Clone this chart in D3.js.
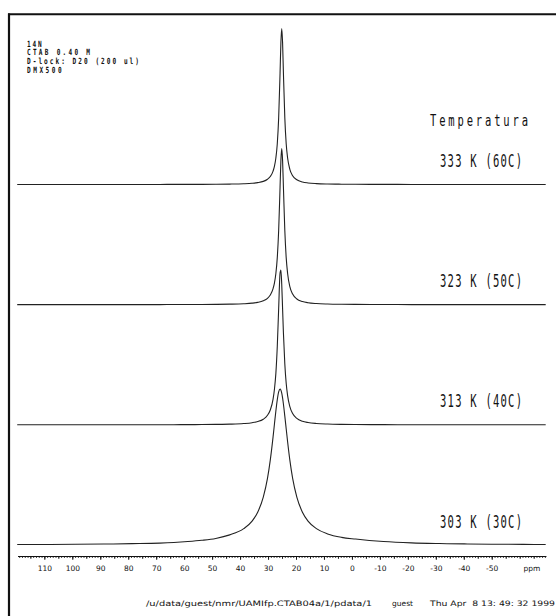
<!DOCTYPE html>
<html><head><meta charset="utf-8">
<script src="https://cdn.jsdelivr.net/npm/d3@7"></script>
<style>body{margin:0;background:#fff} svg{display:block}</style>
</head><body>
<svg id="c" width="556" height="616"></svg>
<script>
// chemical shift grid (ppm) on which the spectra were read
const ppm = [119.7,108.7,98.7,88.7,78.7,68.7,63.7,58.7,53.7,48.7,43.7,38.7,35.7,33.7,31.7,30.2,29.2,28.2,27.7,27.2,26.7,26.2,25.7,25.4,25.1,24.8,24.5,24.0,23.5,23.0,22.2,21.2,19.7,17.7,15.7,12.7,8.7,3.7,-1.3,-11.3,-21.3,-31.3,-41.3,-51.3,-61.3,-69.3];
// relative intensities (peak = 100)
const spec303 = [0.3,0.35,0.45,0.6,0.85,1.2,1.6,2.2,3.0,4.2,6.5,10.5,15.3,21,30.7,42.7,54.4,69.3,77.7,85.9,93,98.1,100,99.3,97.4,94.3,90.4,82.6,74.4,66.2,54.4,42.7,30.7,21,15.3,10.5,7.1,4.9,3.8,2.2,1.35,0.93,0.67,0.5,0.4,0.33];
const spec313 = [0.016,0.021,0.027,0.036,0.051,0.077,0.1,0.13,0.18,0.27,0.43,0.82,1.37,2.1,3.6,6.1,9.5,16.5,23,33,50,74.6,97.3,99.3,90,74.6,59,39,26.5,18.7,11.7,7.2,4.1,2.3,1.48,0.87,0.51,0.3,0.2,0.11,0.066,0.045,0.032,0.024,0.019,0.016];
const spec323 = [0.012,0.016,0.02,0.027,0.038,0.058,0.074,0.1,0.13,0.2,0.32,0.59,0.97,1.47,2.47,4.07,6.2,10.3,14,20,30,47.6,75.4,92.5,100,92.5,75.4,47.6,30,20,11.6,6.8,3.65,2.0,1.23,0.71,0.41,0.24,0.16,0.08,0.05,0.03,0.025,0.02,0.015,0.012];
const spec333 = [0.01,0.013,0.017,0.022,0.031,0.047,0.06,0.08,0.11,0.16,0.26,0.49,0.8,1.2,2.0,3.4,5.1,8.6,11.8,17,26,42.7,71.5,91,100,91,71.5,42.7,26,17,9.7,5.6,3.0,1.6,1.0,0.58,0.33,0.2,0.13,0.07,0.04,0.03,0.02,0.015,0.012,0.01];
const temperatures = ["303 K (30C)","313 K (40C)","323 K (50C)","333 K (60C)"];
const tickLabels = ["110","100","90","80","70","60","50","40","30","20","10","0","-10","-20","-30","-40","-50"];
const tickValues = [110,100,90,80,70,60,50,40,30,20,10,0,-10,-20,-30,-40,-50];
const headerLines = ["14N","CTAB 0.40 M","D-lock: D20 (200 ul)","DMX500"];
const legendTitle = "Temperatura";
const unitLabel = "ppm";
const footerParts = ["/u/data/guest/nmr/UAMIfp.CTAB04a/1/pdata/1","guest","Thu Apr  8 13: 49: 32 1999"];

const spectra = [spec303, spec313, spec323, spec333];

const svg = d3.select("#c");
const x = d3.scaleLinear().domain([119.6, -69.3]).range([17.5, 545.7]);
const yBase = d3.scaleLinear().domain([0, 3]).range([545, 184.5]);
const hScale = d3.scaleLinear().domain([0, 100]).range([0, 156]);

// frame
svg.append("line").attr("x1", 9).attr("x2", 9).attr("y1", 13.5).attr("y2", 616)
  .attr("stroke", "#111").attr("stroke-width", 2.2);
svg.append("line").attr("x1", 8).attr("x2", 556).attr("y1", 14.3).attr("y2", 14.3)
  .attr("stroke", "#111").attr("stroke-width", 2);

// spectra
spectra.forEach((s, i) => {
  const line = d3.line()
    .x((d, k) => x(ppm[k]))
    .y(d => yBase(i) - hScale(d))
    .curve(d3.curveMonotoneX);
  svg.append("path").datum(s).attr("d", line)
    .attr("fill", "none").attr("stroke", "#222").attr("stroke-width", 1.1);
});

// condensed plotter-like text helper
function condensed(str, x0, yb, width, size, sx, weight) {
  const g = svg.append("g").attr("transform", `translate(${x0},${yb}) scale(${sx},1)`);
  g.append("text").text(str)
    .attr("font-family", "'DejaVu Sans Mono', monospace")
    .attr("font-size", size).attr("fill", "#111")
    .attr("font-weight", weight || "normal")
    .attr("textLength", width / sx).attr("lengthAdjust", "spacing")
    .style("white-space", "pre");
}

condensed(legendTitle, 430, 125.5, 98, 15, 0.7);
temperatures.forEach((t, i) => {
  condensed(t, 440, yBase(i) - 17.5, 82, 17, 0.62);
});

// header
const headerWidths = [14.7, 63, 112, 34.7];
headerLines.forEach((t, i) => {
  condensed(t, 27, 46.5 + i * 8.9, headerWidths[i], 8.5, 0.72, "bold");
});

// axis ruler
const axG = svg.append("g").attr("transform", "translate(0,556)");
const minor = d3.range(119, -70, -1);
const mid = minor.filter(v => v % 5 === 0);
const ax1 = d3.axisBottom(x).tickValues(minor).tickSize(2).tickSizeOuter(0).tickFormat("");
const ax2 = d3.axisBottom(x).tickValues(mid).tickSize(3).tickSizeOuter(0).tickFormat("");
const ax3 = d3.axisBottom(x).tickValues(tickValues).tickSize(4).tickSizeOuter(0).tickPadding(6)
  .tickFormat((d, k) => tickLabels[k]);
[ax1, ax2, ax3].forEach(a => {
  const g = axG.append("g").call(a);
  g.select(".domain").attr("stroke", "#111").attr("stroke-width", 1);
  g.selectAll(".tick line").attr("stroke", "#111").attr("stroke-width", 0.8);
  g.selectAll(".tick text").attr("font-family", "'DejaVu Sans', sans-serif")
    .attr("font-size", 7.5).attr("fill", "#111");
});
svg.append("text").text(unitLabel).attr("x", 532).attr("y", 571.3)
  .attr("text-anchor", "middle").attr("font-family", "'DejaVu Sans', sans-serif")
  .attr("font-size", 7.5).attr("fill", "#111");

// footer
const footerX = [146, 392, 430];
const footerW = [226, 21, 125];
footerParts.forEach((t, i) => {
  svg.append("text").text(t).attr("x", footerX[i]).attr("y", 605.5)
    .attr("font-family", "'DejaVu Sans', sans-serif").attr("font-size", 7.5)
    .attr("fill", "#111").attr("textLength", footerW[i]).attr("lengthAdjust", "spacingAndGlyphs")
    .style("white-space", "pre");
});
</script>
</body></html>
